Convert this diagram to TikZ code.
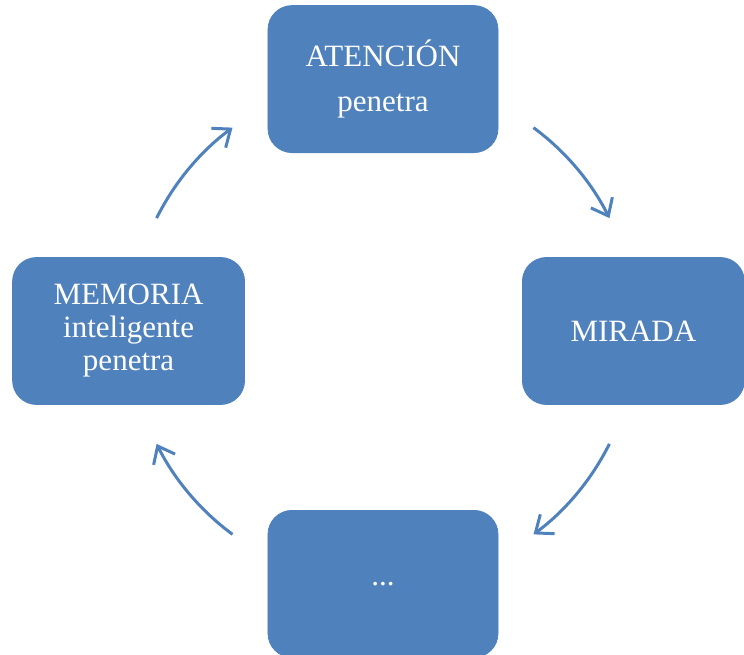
\documentclass[tikz,border=0pt]{standalone}
\usepackage{fontspec}
\setmainfont{Liberation Serif}
\usetikzlibrary{arrows.meta,positioning,calc}
\definecolor{cycleblue}{HTML}{4F81BD}

\begin{document}
\begin{tikzpicture}[
  x=1pt, y=1pt,
  stage/.style={draw=cycleblue, line width=0.8pt, fill=cycleblue, rounded corners=24pt, text=white, align=center, minimum width=230pt, minimum height=147pt, inner sep=0pt, font=\fontsize{31}{33}\selectfont},
  flow/.style={-{Straight Barb[length=15pt,width=24pt]}, draw=cycleblue, line width=3pt}
]
\useasboundingbox (-383,-323) rectangle (361,331);
\coordinate (hub) at (0,0);
\node[stage, above=178pt of hub] (atencion) {ATENCIÓN\\[12pt]penetra};
\node[stage, right=139pt of hub, minimum width=222pt] (mirada) {MIRADA};
\node[stage, below=179pt of hub] (resto) {...};
\node[stage, left=138pt of hub, minimum width=232pt] (memoria) {MEMORIA\\inteligente\\penetra};
\draw[flow] ($(hub)+(53.5:253)$) arc[start angle=53.5, end angle=26.5, radius=253];
\draw[flow] ($(hub)+(-26.5:253)$) arc[start angle=-26.5, end angle=-53.5, radius=253];
\draw[flow] ($(hub)+(233.5:253)$) arc[start angle=233.5, end angle=206.5, radius=253];
\draw[flow] ($(hub)+(153.5:253)$) arc[start angle=153.5, end angle=126.5, radius=253];
\end{tikzpicture}
\end{document}
